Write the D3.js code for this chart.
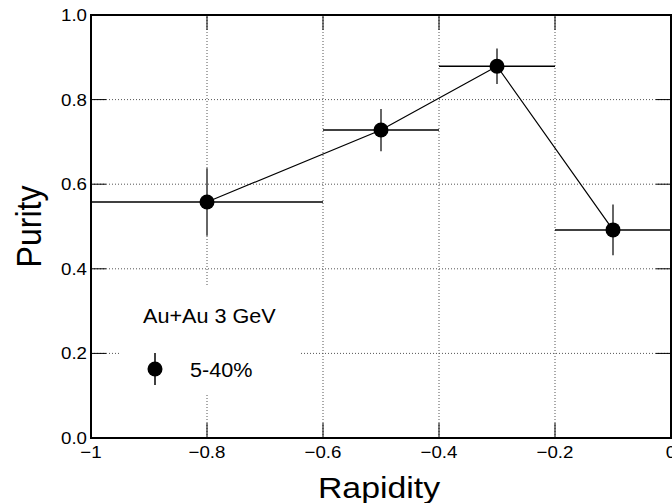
<!DOCTYPE html>
<html>
<head>
<meta charset="utf-8">
<script src="https://cdn.jsdelivr.net/npm/d3@7"></script>
<style>
  body { margin: 0; background: #fff; }
  text { font-family: "Liberation Sans", Arial, sans-serif; fill: #000; }
</style>
</head>
<body>
<div id="chart"></div>
<script>
// data
const rapidity = [-0.8, -0.5, -0.3, -0.1];
const binLow = [-1, -0.6, -0.4, -0.2];
const binHigh = [-0.6, -0.4, -0.2, 0];
const purity = [0.558, 0.728, 0.879, 0.492];
const purityErr = [0.08, 0.05, 0.042, 0.06];

const xTicks = [-1, -0.8, -0.6, -0.4, -0.2, 0];
const yTicks = [0, 0.2, 0.4, 0.6, 0.8, 1.0];

const legendTitle = "Au+Au 3 GeV";
const legendLabel = "5-40%";

const width = 672, height = 503;
const stretch = 1.12; // the text in the figure is a bit wide

const points = rapidity.map((r, i) => ({
    x: r, lo: binLow[i], hi: binHigh[i], y: purity[i], e: purityErr[i]
}));

const svg = d3.select("#chart")
    .append("svg")
    .attr("width", width)
    .attr("height", height);

const x = d3.scaleLinear().domain([-1, 0]).range([91, 671]);
const y = d3.scaleLinear().domain([0, 1]).range([438, 15]);

function fmtX(d) {
    if (d === 0) return "0";
    if (d === -1) return "\u22121";
    return "\u2212" + Math.abs(d).toFixed(1);
}

// grid
const grid = svg.append("g")
    .attr("stroke", "#555")
    .attr("stroke-width", 1)
    .attr("stroke-dasharray", "1,2");

grid.selectAll("line.gx")
    .data(xTicks.slice(1, -1))
    .enter()
    .append("line")
    .attr("x1", d => x(d)).attr("x2", d => x(d))
    .attr("y1", y(0)).attr("y2", y(1));

grid.selectAll("line.gy")
    .data(yTicks.slice(1, -1))
    .enter()
    .append("line")
    .attr("x1", x(-1)).attr("x2", x(0))
    .attr("y1", d => y(d)).attr("y2", d => y(d));

// legend box hides the grid behind it
svg.append("rect")
    .attr("x", 120).attr("y", 285)
    .attr("width", 180).attr("height", 110)
    .attr("fill", "#fff");

// ticks (inside, on all four sides)
const tickLen = 15;
const ticks = svg.append("g").attr("stroke", "#000").attr("stroke-width", 1);

xTicks.forEach(function(d) {
    ticks.append("line")
        .attr("x1", x(d)).attr("x2", x(d))
        .attr("y1", y(0)).attr("y2", y(0) - tickLen);
    ticks.append("line")
        .attr("x1", x(d)).attr("x2", x(d))
        .attr("y1", y(1)).attr("y2", y(1) + tickLen);
});
yTicks.forEach(function(d) {
    ticks.append("line")
        .attr("x1", x(-1)).attr("x2", x(-1) + tickLen)
        .attr("y1", y(d)).attr("y2", y(d));
    ticks.append("line")
        .attr("x1", x(0)).attr("x2", x(0) - tickLen)
        .attr("y1", y(d)).attr("y2", y(d));
});

// frame
svg.append("rect")
    .attr("x", x(-1)).attr("y", y(1))
    .attr("width", x(0) - x(-1))
    .attr("height", y(0) - y(1))
    .attr("fill", "none")
    .attr("stroke", "#000")
    .attr("stroke-width", 2);

// tick labels
svg.append("g")
    .selectAll("text")
    .data(xTicks)
    .enter()
    .append("text")
    .attr("transform", d => "translate(" + x(d) + ",457.5) scale(" + stretch + ",1)")
    .attr("text-anchor", "middle")
    .style("font-size", "16.7px")
    .text(fmtX);

svg.append("g")
    .selectAll("text")
    .data(yTicks)
    .enter()
    .append("text")
    .attr("transform", d => "translate(87," + (y(d) + 6) + ") scale(" + stretch + ",1)")
    .attr("text-anchor", "end")
    .style("font-size", "16.7px")
    .text(d => d.toFixed(1));

// axis titles
svg.append("text")
    .attr("transform", "translate(" + ((x(-1) + x(0)) / 2 - 2) + ",498) scale(" + stretch + ",1)")
    .attr("text-anchor", "middle")
    .style("font-size", "30.2px")
    .text("Rapidity");

svg.append("text")
    .attr("transform", "translate(41," + ((y(0) + y(1)) / 2) + ") scale(" + stretch + ",1) rotate(-90)")
    .attr("text-anchor", "middle")
    .style("font-size", "32px")
    .text("Purity");

// connecting line
const line = d3.line().x(d => x(d.x)).y(d => y(d.y));
svg.append("path")
    .datum(points)
    .attr("d", line)
    .attr("fill", "none")
    .attr("stroke", "#000")
    .attr("stroke-width", 1.2);

// horizontal bin widths
svg.append("g")
    .selectAll("line")
    .data(points)
    .enter()
    .append("line")
    .attr("x1", d => x(d.lo)).attr("x2", d => x(d.hi))
    .attr("y1", d => y(d.y)).attr("y2", d => y(d.y))
    .attr("stroke", "#000")
    .attr("stroke-width", 1.5);

// vertical error bars
svg.append("g")
    .selectAll("line")
    .data(points)
    .enter()
    .append("line")
    .attr("x1", d => x(d.x)).attr("x2", d => x(d.x))
    .attr("y1", d => y(d.y - d.e)).attr("y2", d => y(d.y + d.e))
    .attr("stroke", "#666")
    .attr("stroke-width", 2);

// markers
svg.append("g")
    .selectAll("circle")
    .data(points)
    .enter()
    .append("circle")
    .attr("cx", d => x(d.x))
    .attr("cy", d => y(d.y))
    .attr("r", 7.5)
    .attr("fill", "#000");

// legend
svg.append("text")
    .attr("transform", "translate(143,323) scale(" + stretch + ",1)")
    .style("font-size", "19.3px")
    .text(legendTitle);

svg.append("line")
    .attr("x1", 155).attr("x2", 155)
    .attr("y1", 353).attr("y2", 385)
    .attr("stroke", "#000")
    .attr("stroke-width", 1.5);
svg.append("circle")
    .attr("cx", 155).attr("cy", 369)
    .attr("r", 7.5)
    .attr("fill", "#000");
svg.append("text")
    .attr("transform", "translate(190,376.5) scale(" + stretch + ",1)")
    .style("font-size", "19.3px")
    .text(legendLabel);
</script>
</body>
</html>
